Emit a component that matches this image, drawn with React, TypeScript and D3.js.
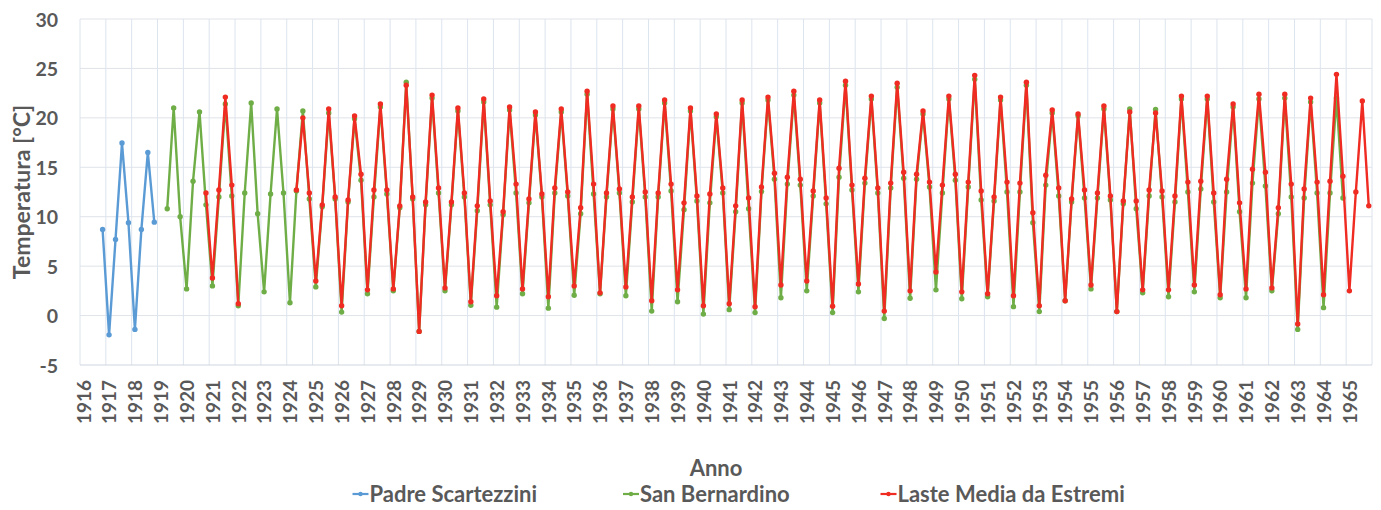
import React from "react";
import * as d3 from "d3";

// Seasonal mean temperatures (°C), one value per quarter, starting at the given year/quarter.
const padreStartYear = 1916;
const padreStartQuarter = 4;
const padreValues: (number | null)[] = [
  8.7,
  -1.95, 7.7, 17.45, 9.4,
  -1.4, 8.7, 16.5, 9.45,
];

const bernardinoStartYear = 1919;
const bernardinoStartQuarter = 2;
const bernardinoValues: (number | null)[] = [
  10.8, 21.0, 10.0,
  2.7, 13.6, 20.6, 11.2,
  3.0, 12.0, 21.4, 12.1,
  1.0, 12.4, 21.5, 10.3,
  2.4, 12.3, 20.9, 12.4,
  1.3, 12.6, 20.7, 11.8,
  2.9, 11.0, 20.5, 11.8,
  0.35, 11.5, 19.9, 13.7,
  2.2, 12.0, 21.1, 12.3,
  2.5, 10.9, 23.6, 11.8,
  -1.6, 11.2, 22.0, 12.4,
  2.5, 11.2, 20.7, 12.0,
  1.05, 10.6, 21.6, 11.2,
  0.85, 10.2, 20.8, 12.4,
  2.2, 11.4, 20.3, 12.0,
  0.75, 12.4, 20.6, 12.1,
  2.05, 10.3, 22.4, 12.3,
  2.2, 12.0, 20.9, 12.4,
  2.0, 11.5, 20.9, 12.0,
  0.45, 12.0, 21.5, 12.6,
  1.4, 10.7, 20.7, 11.6,
  0.15, 11.4, 20.1, 12.4,
  0.6, 10.5, 21.5, 10.8,
  0.3, 12.55, 21.8, 13.8,
  1.8, 13.3, 22.3, 13.2,
  2.5, 12.1, 21.5, 11.3,
  0.3, 14.0, 23.3, 12.7,
  2.4, 13.4, 21.9, 12.4,
  -0.3, 12.9, 23.1, 13.9,
  1.75, 13.8, 20.4, 13.0,
  2.6, 12.4, 21.9, 13.7,
  1.7, 13.0, 23.9, 11.7,
  1.9, 11.6, 21.8, 12.5,
  0.9, 12.5, 23.3, 9.4,
  0.4, 13.2, 20.5, 12.1,
  1.5, 11.5, 20.2, 11.9,
  2.7, 11.9, 20.9, 11.7,
  0.4, 11.3, 20.9, 10.8,
  2.3, 12.1, 20.85, 12.0,
  1.9, 11.5, 21.9, 12.5,
  2.4, 12.8, 21.9, 11.5,
  1.8, 12.5, 21.1, 10.5,
  1.8, 13.4, 21.9, 13.1,
  2.5, 10.3, 22.0, 12.0,
  -1.4, 11.9, 21.6, 12.4,
  0.8, 12.4, 22.0, 11.9,
];

const lasteStartYear = 1920;
const lasteStartQuarter = 4;
const lasteValues: (number | null)[] = [
  12.4,
  3.8, 12.7, 22.1, 13.2,
  1.2, null, null, null,
  null, null, null, null,
  null, 12.7, 20.0, 12.4,
  3.5, 11.2, 20.9, 12.0,
  1.0, 11.7, 20.2, 14.3,
  2.6, 12.7, 21.4, 12.7,
  2.7, 11.1, 23.3, 12.0,
  -1.6, 11.5, 22.3, 12.9,
  2.8, 11.5, 21.0, 12.4,
  1.4, 11.1, 21.9, 11.6,
  2.0, 10.5, 21.1, 13.3,
  2.7, 11.8, 20.6, 12.3,
  1.9, 12.9, 20.9, 12.5,
  3.0, 10.9, 22.7, 13.3,
  2.3, 12.4, 21.2, 12.8,
  2.9, 12.0, 21.2, 12.5,
  1.5, 12.4, 21.8, 13.3,
  2.6, 11.4, 21.0, 12.1,
  1.0, 12.3, 20.4, 12.9,
  1.2, 11.1, 21.8, 11.9,
  0.9, 13.0, 22.1, 14.4,
  3.1, 14.0, 22.7, 13.8,
  3.5, 12.6, 21.8, 11.9,
  0.95, 14.9, 23.7, 13.2,
  3.2, 13.9, 22.2, 12.9,
  0.45, 13.4, 23.5, 14.5,
  2.5, 14.3, 20.7, 13.5,
  4.4, 13.2, 22.2, 14.3,
  2.4, 13.5, 24.3, 12.6,
  2.2, 12.0, 22.1, 13.5,
  2.0, 13.4, 23.6, 10.4,
  1.0, 14.2, 20.8, 12.9,
  1.5, 11.8, 20.4, 12.7,
  3.1, 12.4, 21.2, 12.1,
  0.4, 11.6, 20.6, 11.6,
  2.6, 12.7, 20.5, 12.6,
  2.6, 12.1, 22.2, 13.5,
  3.1, 13.6, 22.2, 12.4,
  2.1, 13.8, 21.4, 11.4,
  2.7, 14.8, 22.4, 14.5,
  2.8, 10.9, 22.4, 13.3,
  -0.85, 12.8, 22.0, 13.5,
  2.1, 13.6, 24.4, 14.1,
  2.5, 12.5, 21.7, 11.1,
];

const yearLabels: number[] = d3.range(1916, 1966);
const yTickValues: number[] = [-5, 0, 5, 10, 15, 20, 25, 30];

const seriesNames = ["Padre Scartezzini", "San Bernardino", "Laste Media da Estremi"];
const seriesColors = ["#5b9bd5", "#6fad47", "#ef2b22"];

type Pt = { t: number; v: number | null };

function toPoints(startYear: number, startQuarter: number, values: (number | null)[]): Pt[] {
  return values.map((v, i) => ({
    t: startYear + (startQuarter - 1 + i + 0.5) / 4,
    v,
  }));
}

const W = 1381;
const H = 510;
const FONT = "Lato, 'Open Sans', sans-serif";
const TEXT = "#595959";

export default function App() {
  const x = d3.scaleLinear().domain([1916, 1966]).range([80, 1372]);
  const y = d3.scaleLinear().domain([-5, 30]).range([365, 19]);

  const series = [
    toPoints(padreStartYear, padreStartQuarter, padreValues),
    toPoints(bernardinoStartYear, bernardinoStartQuarter, bernardinoValues),
    toPoints(lasteStartYear, lasteStartQuarter, lasteValues),
  ];

  const line = d3
    .line<Pt>()
    .defined((d) => d.v != null)
    .x((d) => x(d.t))
    .y((d) => y(d.v as number));

  const gridYears = d3.range(1916, 1967);
  const legendX = [352.5, 623, 880.5];

  return (
    <svg
      width={W}
      height={H}
      style={{ position: "absolute", left: 0, top: 0, background: "#fff" }}
      fontFamily={FONT}
    >
      {/* grid */}
      {yTickValues
        .filter((t) => t !== -5)
        .map((t) => (
          <line key={"gy" + t} x1={x(1916)} x2={x(1966)} y1={y(t)} y2={y(t)} stroke="#dfe3e8" strokeWidth={1} />
        ))}
      {gridYears.map((yr) => (
        <line key={"gx" + yr} x1={x(yr)} x2={x(yr)} y1={y(30)} y2={y(-5)} stroke="#dce4ee" strokeWidth={1} />
      ))}
      <line x1={x(1916)} x2={x(1966)} y1={y(-5)} y2={y(-5)} stroke="#d0d6de" strokeWidth={1.2} />

      {/* y tick labels */}
      {yTickValues.map((t) => (
        <text
          key={"yl" + t}
          x={58}
          y={y(t)}
          textAnchor="end"
          dominantBaseline="central"
          fontSize={19.5}
          fontWeight={700}
          fill={TEXT}
        >
          {t}
        </text>
      ))}

      {/* x tick labels */}
      {yearLabels.map((yr) => (
        <text
          key={"xl" + yr}
          transform={`translate(${x(yr) + 3},${380}) rotate(-90)`}
          textAnchor="end"
          dominantBaseline="central"
          fontSize={19}
          fontWeight={700}
          fill={TEXT}
        >
          {yr}
        </text>
      ))}

      {/* series */}
      {series.map((pts, si) => (
        <g key={"s" + si}>
          <path d={line(pts) || ""} fill="none" stroke={seriesColors[si]} strokeWidth={2.4} strokeLinejoin="round" />
          {pts
            .filter((p) => p.v != null)
            .map((p, i) => (
              <circle key={i} cx={x(p.t)} cy={y(p.v as number)} r={2.7} fill={seriesColors[si]} />
            ))}
        </g>
      ))}

      {/* axis titles */}
      <text
        transform={`translate(21,${(y(30) + y(-5)) / 2}) rotate(-90)`}
        textAnchor="middle"
        dominantBaseline="central"
        fontSize={23}
        fontWeight={700}
        fill={TEXT}
      >
        Temperatura [°C]
      </text>
      <text x={716} y={476} textAnchor="middle" fontSize={22} fontWeight={700} fill={TEXT}>
        Anno
      </text>

      {/* legend */}
      {seriesNames.map((name, i) => (
        <g key={"lg" + i}>
          <line x1={legendX[i]} x2={legendX[i] + 16} y1={494} y2={494} stroke={seriesColors[i]} strokeWidth={2.2} />
          <circle cx={legendX[i] + 8} cy={494} r={2.2} fill={seriesColors[i]} />
          <text x={legendX[i] + 17} y={502} fontSize={22} fontWeight={700} fill={TEXT}>
            {name}
          </text>
        </g>
      ))}
    </svg>
  );
}
